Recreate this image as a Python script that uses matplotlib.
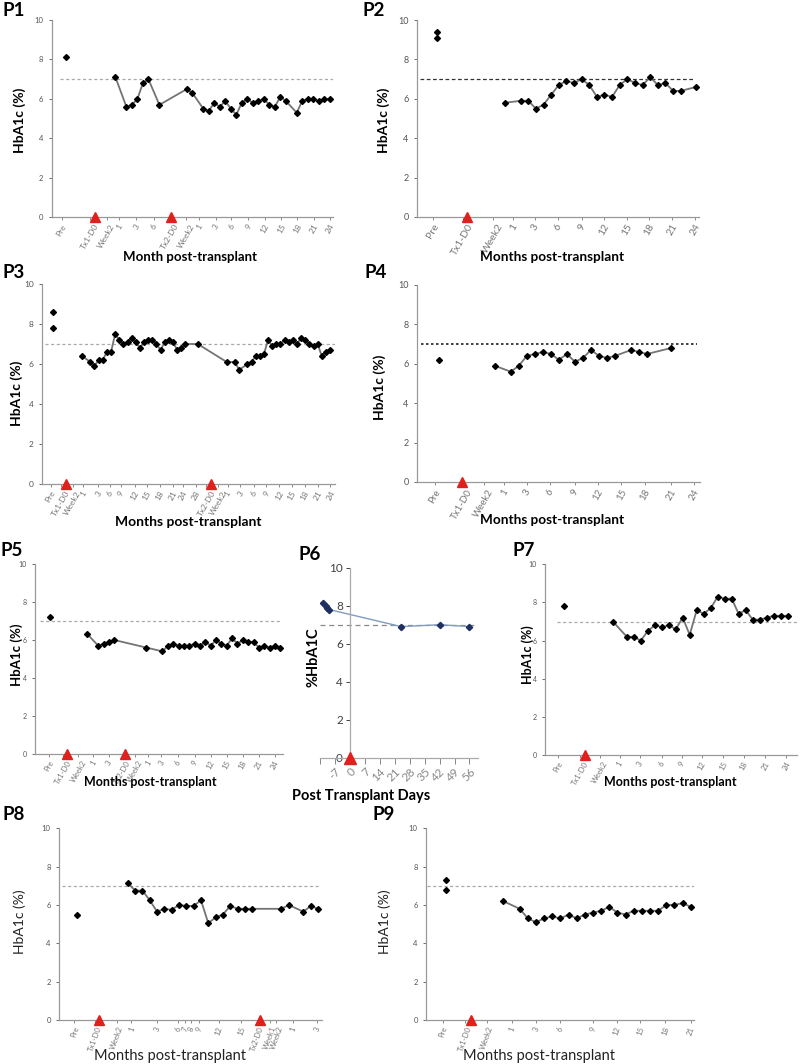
import matplotlib
matplotlib.use('Agg')
import matplotlib.pyplot as plt

plt.rcParams['font.family'] = ['Lato', 'DejaVu Sans']

W, H = 800, 1064

# ---------------- data (x = category position on each panel's axis) ----------------
# P1
p1_pre_x = [0]
p1_pre_y = [8.1]
p1_x = [9, 11, 12, 13, 14, 15, 17, 22, 23, 25, 26, 27, 28, 29, 30, 31, 32, 33, 34, 35,
        36, 37, 38, 39, 40, 42, 43, 44, 45, 46, 47, 48]
p1_y = [7.1, 5.6, 5.7, 6.0, 6.8, 7.0, 5.7, 6.5, 6.3, 5.5, 5.4, 5.8, 5.6, 5.9, 5.5, 5.2,
        5.8, 6.0, 5.8, 5.9, 6.0, 5.7, 5.6, 6.1, 5.9, 5.3, 5.9, 6.0, 6.0, 5.9, 6.0, 6.0]
p1_tx = [5.2, 19.2]
p1_ticks = [-0.8, 4.4, 7.4, 9.7, 12.8, 16.0, 18.9, 21.9, 24.2, 27.3, 30.1, 33.2, 36.2,
            39.2, 42.1, 45.2, 48.0]
p1_labels = ['Pre', 'Tx1-D0', 'Week2', '1', '3', '6', 'Tx2-D0', 'Week2', '1', '3', '6',
             '9', '12', '15', '18', '21', '24']

# P2
p2_pre_x = [-10, -10]
p2_pre_y = [9.4, 9.1]
p2_x = [-1, 1, 2, 3, 4, 5, 6, 7, 8, 9, 10, 11, 12, 13, 14, 15, 16, 17, 18, 19, 20, 21, 22, 24]
p2_y = [5.8, 5.9, 5.9, 5.5, 5.7, 6.2, 6.7, 6.9, 6.8, 7.0, 6.7, 6.1, 6.2, 6.1, 6.7, 7.0,
        6.8, 6.7, 7.1, 6.7, 6.8, 6.4, 6.4, 6.6]
p2_tx = [-6]
p2_ticks = [-10.5, -6.6, -2.6, 0.0, 2.9, 5.9, 9.0, 11.9, 14.9, 17.8, 20.9, 23.9]
p2_labels = ['Pre', 'Tx1-D0', 'Week2', '1', '3', '6', '9', '12', '15', '18', '21', '24']

# P3
p3_pre_x = [0, 0]
p3_pre_y = [8.6, 7.8]
p3_x = [7, 9, 10, 11, 12, 13, 14, 15, 16, 17, 18, 19, 20, 21, 22, 23, 24, 25, 26, 27,
        28, 29, 30, 31, 32, 35, 42, 44, 45, 47, 48, 49, 50, 51, 52, 53, 54, 55, 56, 57,
        58, 59, 60, 61, 62, 63, 64, 65, 66, 67]
p3_y = [6.4, 6.1, 5.9, 6.2, 6.2, 6.6, 6.6, 7.5, 7.2, 7.0, 7.1, 7.3, 7.1, 6.8, 7.1, 7.2,
        7.2, 7.0, 6.7, 7.1, 7.2, 7.1, 6.7, 6.8, 7.0, 7.0, 6.1, 6.1, 5.7, 6.0, 6.1, 6.4,
        6.4, 6.5, 7.2, 6.9, 7.0, 7.0, 7.2, 7.1, 7.2, 7.0, 7.3, 7.2, 7.0, 6.9, 7.0, 6.4,
        6.6, 6.7]
p3_tx = [3.2, 38.3]
p3_ticks = [-0.6, 1.8, 4.7, 7.3, 10.9, 13.7, 16.3, 19.8, 22.6, 25.8, 28.9, 31.5, 34.5,
            37.1, 39.9, 42.2, 45.3, 48.5, 51.6, 54.7, 57.8, 60.9, 64.0, 67.1]
p3_labels = ['Pre', 'Tx1-D0', 'Week2', '1', '3', '6', '9', '12', '15', '18', '21', '24',
             '28', 'Tx2-D0', 'Week2', '1', '3', '6', '9', '12', '15', '18', '21', '24']

# P4
p4_pre_x = [-8]
p4_pre_y = [6.2]
p4_x = [-1, 1, 2, 3, 4, 5, 6, 7, 8, 9, 10, 11, 12, 13, 14, 16, 17, 18, 21]
p4_y = [5.9, 5.6, 5.9, 6.4, 6.5, 6.6, 6.5, 6.2, 6.5, 6.1, 6.3, 6.7, 6.4, 6.3, 6.4, 6.7,
        6.6, 6.5, 6.8]
p4_tx = [-5.1]
p4_ticks = [-8.5, -5.1, -2.4, 0.2, 3.0, 5.9, 9.0, 11.9, 14.8, 17.7, 21.0, 23.9]
p4_labels = ['Pre', 'Tx1-D0', 'Week2', '1', '3', '6', '9', '12', '15', '18', '21', '24']

# P5
p5_pre_x = [0]
p5_pre_y = [7.2]
p5_x = [7, 9, 10, 11, 12, 18, 21, 22, 23, 24, 25, 26, 27, 28, 29, 30, 31, 32, 33, 34,
        35, 36, 37, 38, 39, 40, 41, 42, 43]
p5_y = [6.3, 5.7, 5.8, 5.9, 6.0, 5.6, 5.4, 5.7, 5.8, 5.7, 5.7, 5.7, 5.8, 5.7, 5.9, 5.7,
        6.0, 5.8, 5.7, 6.1, 5.8, 6.0, 5.9, 5.9, 5.6, 5.7, 5.6, 5.7, 5.6]
p5_tx = [3.1, 14.0]
p5_ticks = [-0.2, 2.5, 5.3, 8.1, 11.0, 13.4, 15.8, 18.3, 20.8, 23.9, 27.0, 30.0, 33.0,
            36.0, 39.0, 42.0]
p5_labels = ['Pre', 'Tx1-D0', 'Week2', '1', '3', 'Tx2-D0', 'Week2', '1', '3', '6', '9',
             '12', '15', '18', '21', '24']

# P6 (days)
p6_x = [-12.4, -11.4, -10.6, -9.8, 24, 42, 56]
p6_y = [8.15, 8.0, 7.9, 7.8, 6.9, 7.0, 6.9]
p6_tx = [0]
p6_days = [-7, 0, 7, 14, 21, 28, 35, 42, 49, 56]

# P7
p7_pre_x = [-7]
p7_pre_y = [7.8]
p7_x = [0, 2, 3, 4, 5, 6, 7, 8, 9, 10, 11, 12, 13, 14, 15, 16, 17, 18, 19, 20, 21, 22, 23, 24, 25]
p7_y = [7.0, 6.2, 6.2, 6.0, 6.5, 6.8, 6.7, 6.8, 6.6, 7.2, 6.3, 7.6, 7.4, 7.7, 8.3, 8.2,
        8.2, 7.4, 7.6, 7.1, 7.1, 7.2, 7.3, 7.3, 7.3]
p7_tx = [-4]
p7_ticks = [-7.8, -4.7, -1.8, 1.0, 3.9, 7.0, 9.9, 12.7, 15.8, 18.7, 21.8, 24.8]
p7_labels = ['Pre', 'Tx1-D0', 'Week2', '1', '3', '6', '9', '12', '15', '18', '21', '24']

# P8
p8_pre_x = [-7]
p8_pre_y = [5.5]
p8_x = [0, 1, 2, 3, 4, 5, 6, 7, 8, 9, 10, 11, 12, 13, 14, 15, 16, 17, 21, 22, 24, 25, 26]
p8_y = [7.15, 6.75, 6.75, 6.25, 5.65, 5.8, 5.75, 6.0, 5.95, 5.95, 6.25, 5.05, 5.35, 5.5,
        5.95, 5.8, 5.8, 5.8, 5.8, 6.0, 5.65, 5.95, 5.8]
p8_tx = [-4, 18]
p8_ticks = [-7.3, -4.5, -1.5, 0.5, 4.0, 6.9, 7.8, 8.7, 9.7, 12.4, 15.5, 17.6, 19.4, 20.3,
            22.6, 25.8]
p8_labels = ['Pre', 'Tx1-D0', 'Week2', '1', '3', '6', '7', '8', '9', '12', '15', 'Tx2-D0',
             'Week1', 'Week2', '1', '3']

# P9
p9_pre_x = [-7, -7]
p9_pre_y = [7.3, 6.8]
p9_x = [0, 2, 3, 4, 5, 6, 7, 8, 9, 10, 11, 12, 13, 14, 15, 16, 17, 18, 19, 20, 21, 22, 23]
p9_y = [6.2, 5.8, 5.3, 5.1, 5.3, 5.4, 5.3, 5.5, 5.3, 5.5, 5.6, 5.7, 5.9, 5.6, 5.5, 5.7,
        5.7, 5.7, 5.7, 6.0, 6.0, 6.1, 5.9]
p9_tx = [-4]
p9_ticks = [-7.4, -4.7, -2.0, 1.0, 4.0, 7.0, 11.0, 13.9, 16.8, 19.9, 23.0]
p9_labels = ['Pre', 'Tx1-D0', 'Week2', '1', '3', '6', '9', '12', '15', '18', '21']


fig = plt.figure(figsize=(W / 100, H / 100), dpi=100)


def rect(x0, x1, y0, y1):
    return [x0 / W, 1 - y1 / H, (x1 - x0) / W, (y1 - y0) / H]


def ftext(x, y, s, **kw):
    fig.text(x / W, 1 - y / H, s, **kw)


def month_panel(box, xlim, pre_x, pre_y, xs, ys, tx, ticks, labels, dash_x,
                dash_col='#aaaaaa', dash_ls=(0, (2.5, 2)), dash_lw=0.9,
                fs=6, yfs=5.5, rot=60):
    ax = fig.add_axes(rect(*box))
    ax.hlines(7, dash_x[0], dash_x[1], colors=dash_col, linestyles=dash_ls, lw=dash_lw)
    ax.plot(xs, ys, color='#747474', lw=1.3, zorder=2)
    ax.plot(xs, ys, 'D', color='black', ms=3.0, zorder=3)
    ax.plot(pre_x, pre_y, 'D', color='black', ms=3.0, zorder=3)
    ax.plot(tx, [0] * len(tx), '^', color='#e0201c', ms=7, clip_on=False, zorder=5)
    ax.set_xlim(*xlim)
    ax.set_ylim(0, 10)
    ax.set_yticks([0, 2, 4, 6, 8, 10])
    ax.set_xticks(ticks)
    ax.set_xticklabels(labels, rotation=rot, ha='center', fontsize=fs, color='#555555')
    ax.tick_params(axis='y', labelsize=yfs, colors='#555555', length=2, width=0.6, pad=4)
    ax.tick_params(axis='x', length=2, width=0.6, pad=2, colors='#777777')
    for s in ['top', 'right']:
        ax.spines[s].set_visible(False)
    for s in ['left', 'bottom']:
        ax.spines[s].set_color('#999999')
        ax.spines[s].set_linewidth(0.9)
    return ax


# P1
month_panel((51.7, 333, 20, 217.3), (-2.6, 48.6), p1_pre_x, p1_pre_y, p1_x, p1_y, p1_tx,
            p1_ticks, p1_labels, (-1.1, 48.6))
ftext(2, 10, 'P1', fontsize=13.5, fontweight='bold', va='center')
ftext(20, 120, 'HbA1c (%)', fontsize=10, fontweight='bold', rotation=90, ha='center', va='center')
ftext(190, 257, 'Month post-transplant', fontsize=9.5, fontweight='bold', ha='center', va='center')

# P2
month_panel((417, 699, 20, 217), (-12.6, 24.4), p2_pre_x, p2_pre_y, p2_x, p2_y, p2_tx,
            p2_ticks, p2_labels, (-12.2, 23.7), dash_col='#333333', dash_ls=(0, (3, 2)),
            fs=7.5, yfs=6.5)
ftext(363, 10, 'P2', fontsize=13.5, fontweight='bold', va='center')
ftext(384, 120, 'HbA1c (%)', fontsize=10, fontweight='bold', rotation=90, ha='center', va='center')
ftext(552, 257, 'Months post-transplant', fontsize=9.8, fontweight='bold', ha='center', va='center')

# P3
month_panel((42, 335, 284, 484), (-2.7, 68.2), p3_pre_x, p3_pre_y, p3_x, p3_y, p3_tx,
            p3_ticks, p3_labels, (-2.0, 68.2), yfs=6)
ftext(2, 273, 'P3', fontsize=13.5, fontweight='bold', va='center')
ftext(17, 393, 'HbA1c (%)', fontsize=10, fontweight='bold', rotation=90, ha='center', va='center')
ftext(188, 522, 'Months post-transplant', fontsize=10, fontweight='bold', ha='center', va='center')

# P4
month_panel((417, 700, 285, 482), (-10.7, 24.6), p4_pre_x, p4_pre_y, p4_x, p4_y, p4_tx,
            p4_ticks, p4_labels, (-10.2, 24.2), dash_col='#222222', dash_ls=(0, (1.5, 1.5)),
            dash_lw=1.2, fs=7, yfs=6.5)
ftext(365, 273, 'P4', fontsize=13.5, fontweight='bold', va='center')
ftext(380, 387, 'HbA1c (%)', fontsize=10, fontweight='bold', rotation=90, ha='center', va='center')
ftext(552, 520, 'Months post-transplant', fontsize=9.8, fontweight='bold', ha='center', va='center')

# P5
month_panel((35, 283, 564, 754), (-2.8, 43.5), p5_pre_x, p5_pre_y, p5_x, p5_y, p5_tx,
            p5_ticks, p5_labels, (-1.9, 43.4), fs=5.5, yfs=5)
ftext(0, 551, 'P5', fontsize=13.5, fontweight='bold', va='center')
ftext(17, 655, 'HbA1c (%)', fontsize=9.5, fontweight='bold', rotation=90, ha='center', va='center')
ftext(150, 782, 'Months post-transplant', fontsize=9, fontweight='bold', ha='center', va='center')

# P6
ax6 = fig.add_axes(rect(320, 478, 567.7, 757.7))
ax6.hlines(7, -14, 60, colors='#888888', linestyles=(0, (4, 3)), lw=0.9)
ax6.plot(p6_x, p6_y, color='#7f9cc0', lw=1.0, zorder=2)
ax6.plot(p6_x, p6_y, 'D', color='#1f2f5f', ms=3.2, zorder=3)
ax6.plot(p6_tx, [0] * len(p6_tx), '^', color='#e0201c', ms=8, clip_on=False, zorder=5)
ax6.set_xlim(-14, 60)
ax6.set_ylim(0, 10)
ax6.set_yticks([0, 2, 4, 6, 8, 10])
ax6.set_xticks(p6_days)
ax6.set_xticks([-14], minor=True)
ax6.set_xticklabels([str(d) for d in p6_days], rotation=45, ha='right',
                    rotation_mode='anchor', fontsize=8.5, color='#404040')
ax6.tick_params(axis='y', labelsize=8.5, colors='#404040', length=3, width=0.7, pad=2)
ax6.tick_params(axis='x', which='both', length=4, width=0.7, pad=2, colors='#888888')
for s in ['top', 'right']:
    ax6.spines[s].set_visible(False)
ax6.spines['left'].set_position(('data', 0))
for s in ['left', 'bottom']:
    ax6.spines[s].set_color('#aaaaaa')
    ax6.spines[s].set_linewidth(0.9)
ftext(298, 555, 'P6', fontsize=13.5, fontweight='bold', va='center')
ftext(313, 657, '%HbA1C', fontsize=10.5, fontweight='bold', rotation=90, ha='center', va='center')
ftext(361, 796, 'Post Transplant Days', fontsize=10.5, fontweight='bold', ha='center', va='center')

# P7
month_panel((545, 796.7, 564.3, 755), (-9.7, 26.3), p7_pre_x, p7_pre_y, p7_x, p7_y, p7_tx,
            p7_ticks, p7_labels, (-8, 26.3), fs=5.5, yfs=5)
ftext(512, 551, 'P7', fontsize=13.5, fontweight='bold', va='center')
ftext(528, 655, 'HbA1c (%)', fontsize=9, fontweight='bold', rotation=90, ha='center', va='center')
ftext(670, 782, 'Months post-transplant', fontsize=9, fontweight='bold', ha='center', va='center')

# P8
month_panel((59, 321.7, 828.3, 1020), (-9.4, 26.5), p8_pre_x, p8_pre_y, p8_x, p8_y, p8_tx,
            p8_ticks, p8_labels, (-9.0, 26.2), fs=5.5, yfs=5.5, rot=70)
ftext(2, 815, 'P8', fontsize=13.5, fontweight='bold', va='center')
ftext(20, 922, 'HbA1c (%)', fontsize=10, rotation=90, ha='center', va='center', color='#222222')
ftext(170, 1056, 'Months post-transplant', fontsize=10.5, ha='center', va='center', color='#222222')

# P9
month_panel((426, 694, 828.3, 1020), (-9.5, 23.4), p9_pre_x, p9_pre_y, p9_x, p9_y, p9_tx,
            p9_ticks, p9_labels, (-9.4, 23.4), fs=5.5, yfs=5.5, rot=70)
ftext(373, 815, 'P9', fontsize=13.5, fontweight='bold', va='center')
ftext(385, 922, 'HbA1c (%)', fontsize=10, rotation=90, ha='center', va='center', color='#222222')
ftext(539, 1056, 'Months post-transplant', fontsize=10.5, ha='center', va='center', color='#222222')

fig.savefig('out.png', dpi=100)
